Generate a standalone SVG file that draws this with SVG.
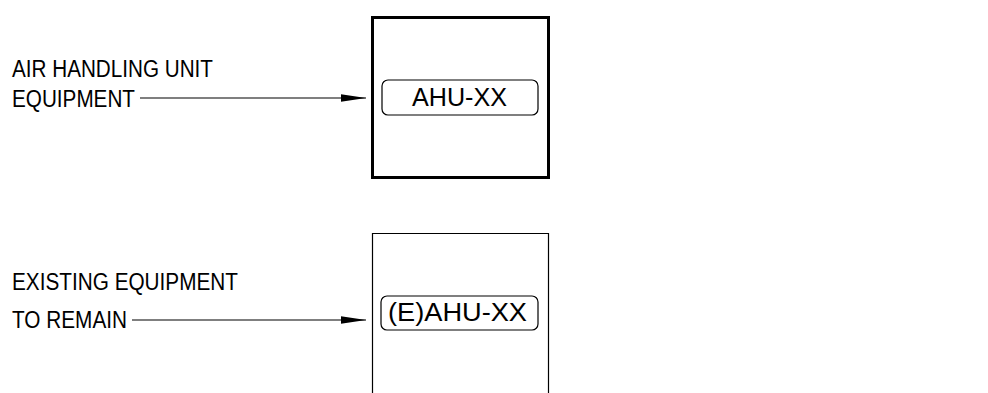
<svg xmlns="http://www.w3.org/2000/svg" width="988" height="393" viewBox="0 0 988 393">
<style>
.lbl{font-family:"Liberation Sans",Arial,sans-serif;font-size:23.5px;fill:#000}
.tag{font-family:"Liberation Sans",Arial,sans-serif;font-size:26px;fill:#000}
.con{stroke:#000;stroke-width:1.2;fill:none}
.pill{fill:#fff;stroke:#000;stroke-width:1.2}
</style>
<defs>
<marker id="ah" markerUnits="userSpaceOnUse" markerWidth="26" markerHeight="10" refX="25" refY="5" orient="auto">
<path d="M0,1.2 L25,5 L0,8.8 Z" fill="#000"/>
</marker>
</defs>
<rect width="988" height="393" fill="#fff"/>
<g id="label-ahu">
<text class="lbl" x="12" y="77" textLength="201" lengthAdjust="spacingAndGlyphs">AIR HANDLING UNIT</text>
<text class="lbl" x="12" y="107" textLength="123" lengthAdjust="spacingAndGlyphs">EQUIPMENT</text>
</g>
<g id="label-existing">
<text class="lbl" x="12" y="290" textLength="226" lengthAdjust="spacingAndGlyphs">EXISTING EQUIPMENT</text>
<text class="lbl" x="12" y="328" textLength="115" lengthAdjust="spacingAndGlyphs">TO REMAIN</text>
</g>
<g id="node-ahu">
<rect x="372.5" y="17.5" width="176" height="160" fill="#fff" stroke="#000" stroke-width="3"/>
<rect class="pill" x="382" y="80" width="156" height="35" rx="6"/>
<text class="tag" x="412" y="106" textLength="95" lengthAdjust="spacingAndGlyphs">AHU-XX</text>
</g>
<g id="node-existing">
<path d="M372.5,393 V233.5 H548.5 V393" fill="#fff" stroke="#000" stroke-width="1.2"/>
<rect class="pill" x="381" y="296" width="157" height="34" rx="6"/>
<text class="tag" x="388" y="321" textLength="139" lengthAdjust="spacingAndGlyphs">(E)AHU-XX</text>
</g>
<g id="connectors">
<line class="con" x1="140" y1="98" x2="366" y2="98" marker-end="url(#ah)"/>
<line class="con" x1="132" y1="320" x2="366" y2="320" marker-end="url(#ah)"/>
</g>
</svg>
